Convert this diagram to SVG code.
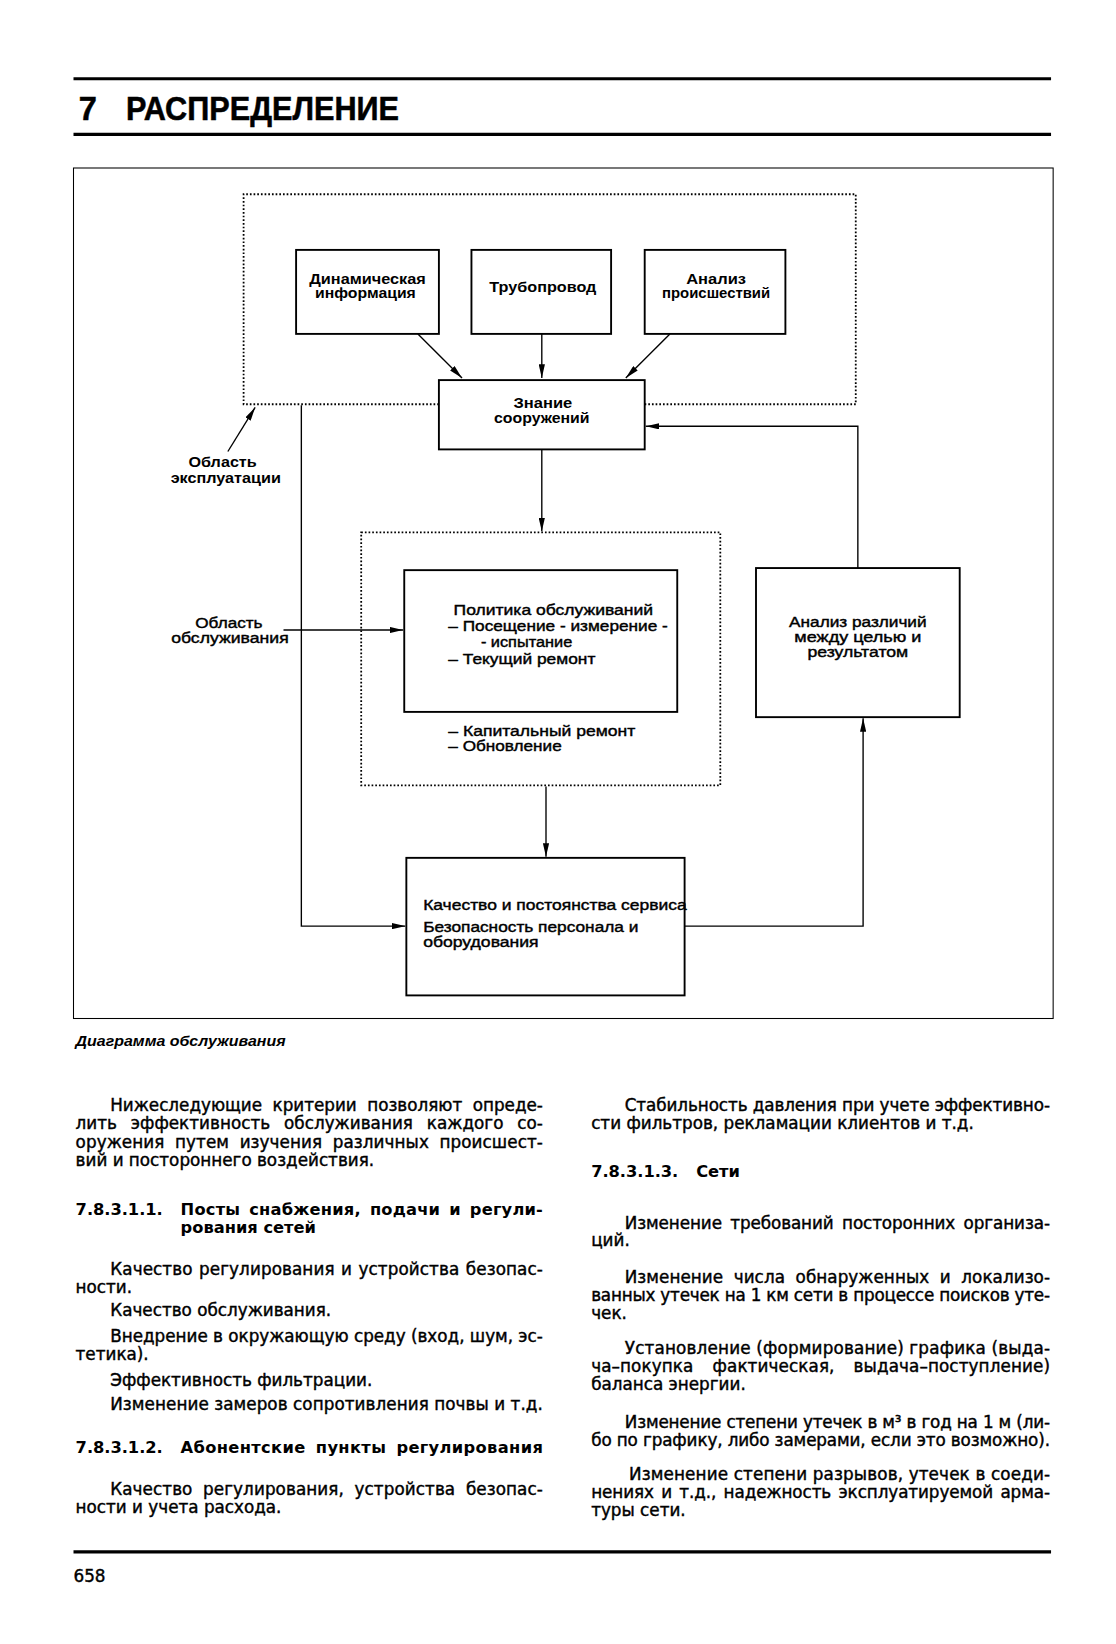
<svg xmlns="http://www.w3.org/2000/svg" width="1116" height="1644" viewBox="0 0 1116 1644">
<defs>
<style>
.rule{stroke:#000;stroke-width:3;fill:none}
.frame{stroke:#000;stroke-width:1;fill:none}
.box{stroke:#000;stroke-width:1.8;fill:#fff}
.dot{stroke:#000;stroke-width:1.7;fill:none;stroke-dasharray:1.6 1.9}
.con{stroke:#000;stroke-width:1.3;fill:none}
.bl{font-family:"Liberation Sans",Arial,sans-serif;font-weight:bold;font-size:14.5px;fill:#000;text-anchor:middle}
.rl{font-family:"Liberation Sans",Arial,sans-serif;font-size:14.5px;fill:#000;stroke:#000;stroke-width:0.4}
.rlc{font-family:"Liberation Sans",Arial,sans-serif;font-size:14.5px;fill:#000;stroke:#000;stroke-width:0.4;text-anchor:middle}
.body{font-family:"DejaVu Sans","Liberation Sans",sans-serif;font-size:16px;fill:#000;stroke:#000;stroke-width:0.4}
.head{font-family:"DejaVu Sans","Liberation Sans",sans-serif;font-size:15.5px;font-weight:bold;fill:#000}
.title{font-family:"Liberation Sans",Arial,sans-serif;font-size:31px;font-weight:bold;fill:#000;stroke:#000;stroke-width:0.5}
.cap{font-family:"Liberation Sans",Arial,sans-serif;font-size:13.5px;font-weight:bold;font-style:italic;fill:#000}
</style>
<marker id="ah" viewBox="0 0 13 6" refX="13" refY="3" markerWidth="13" markerHeight="6" orient="auto" markerUnits="userSpaceOnUse">
<path d="M0,0 L13,3 L0,6 Z" fill="#000"/>
</marker>
</defs>
<rect width="1116" height="1644" fill="#fff"/>
<g transform="scale(1.05)">
<g id="header">
<line class="rule" x1="70" y1="75" x2="1001" y2="75"/>
<text class="title" x="75" y="114">7</text>
<text class="title" x="120" y="114" textLength="260" lengthAdjust="spacingAndGlyphs">РАСПРЕДЕЛЕНИЕ</text>
<line class="rule" x1="70" y1="128" x2="1001" y2="128"/>
</g>
<g id="figure-frame">
<rect class="frame" x="70" y="160" width="933" height="810"/>
</g>
<g id="area-operation">
<path class="dot" d="M418,385 L232,385 L232,185 L815,185 L815,385 L614,385"/>
<text class="bl" x="212" y="445" textLength="65" lengthAdjust="spacingAndGlyphs">Область</text>
<text class="bl" x="215" y="460" textLength="105" lengthAdjust="spacingAndGlyphs">эксплуатации</text>
</g>
<g id="node-dyn">
<rect class="box" x="282" y="238" width="136" height="80"/>
<text class="bl" x="350" y="270" textLength="111" lengthAdjust="spacingAndGlyphs">Динамическая</text>
<text class="bl" x="348" y="284" textLength="96" lengthAdjust="spacingAndGlyphs">информация</text>
</g>
<g id="node-pipe">
<rect class="box" x="449" y="238" width="133" height="80"/>
<text class="bl" x="517" y="278" textLength="102" lengthAdjust="spacingAndGlyphs">Трубопровод</text>
</g>
<g id="node-incident">
<rect class="box" x="614" y="238" width="134" height="80"/>
<text class="bl" x="682" y="270" textLength="57" lengthAdjust="spacingAndGlyphs">Анализ</text>
<text class="bl" x="682" y="284" textLength="103" lengthAdjust="spacingAndGlyphs">происшествий</text>
</g>
<g id="node-knowledge">
<rect class="box" x="418" y="362" width="196" height="66"/>
<text class="bl" x="517" y="389" textLength="56" lengthAdjust="spacingAndGlyphs">Знание</text>
<text class="bl" x="516" y="403" textLength="91" lengthAdjust="spacingAndGlyphs">сооружений</text>
</g>
<g id="area-maintenance">
<rect class="dot" x="344" y="507" width="342" height="241"/>
<text class="rlc" x="218" y="598" textLength="64" lengthAdjust="spacingAndGlyphs">Область</text>
<text class="rlc" x="219" y="612" textLength="112" lengthAdjust="spacingAndGlyphs">обслуживания</text>
<text class="rl" x="427" y="701" textLength="178" lengthAdjust="spacingAndGlyphs">– Капитальный ремонт</text>
<text class="rl" x="427" y="715" textLength="108" lengthAdjust="spacingAndGlyphs">– Обновление</text>
</g>
<g id="node-policy">
<rect class="box" x="385" y="543" width="260" height="135"/>
<text class="rl" x="432" y="586" textLength="190" lengthAdjust="spacingAndGlyphs">Политика обслуживаний</text>
<text class="rl" x="427" y="601" textLength="209" lengthAdjust="spacingAndGlyphs">– Посещение - измерение -</text>
<text class="rl" x="458" y="616" textLength="87" lengthAdjust="spacingAndGlyphs">- испытание</text>
<text class="rl" x="427" y="632" textLength="140" lengthAdjust="spacingAndGlyphs">– Текущий ремонт</text>
</g>
<g id="node-gap">
<rect class="box" x="720" y="541" width="194" height="142"/>
<text class="rlc" x="817" y="597" textLength="131" lengthAdjust="spacingAndGlyphs">Анализ различий</text>
<text class="rlc" x="817" y="611" textLength="121" lengthAdjust="spacingAndGlyphs">между целью и</text>
<text class="rlc" x="817" y="626" textLength="96" lengthAdjust="spacingAndGlyphs">результатом</text>
</g>
<g id="node-quality">
<rect class="box" x="387" y="817" width="265" height="131"/>
<text class="rl" x="403" y="867" textLength="251" lengthAdjust="spacingAndGlyphs">Качество и постоянства сервиса</text>
<text class="rl" x="403" y="888" textLength="205" lengthAdjust="spacingAndGlyphs">Безопасность персонала и</text>
<text class="rl" x="403" y="902" textLength="110" lengthAdjust="spacingAndGlyphs">оборудования</text>
</g>
<g id="connectors">
<line class="con" x1="398" y1="318" x2="440" y2="360" marker-end="url(#ah)"/>
<line class="con" x1="516" y1="318" x2="516" y2="360" marker-end="url(#ah)"/>
<line class="con" x1="638" y1="318" x2="596" y2="360" marker-end="url(#ah)"/>
<line class="con" x1="217" y1="430" x2="243" y2="388" marker-end="url(#ah)"/>
<line class="con" x1="516" y1="428" x2="516" y2="506" marker-end="url(#ah)"/>
<polyline class="con" points="287,386 287,882 386,882" marker-end="url(#ah)"/>
<line class="con" x1="270" y1="600" x2="384" y2="600" marker-end="url(#ah)"/>
<line class="con" x1="520" y1="749" x2="520" y2="816" marker-end="url(#ah)"/>
<polyline class="con" points="652,882 822,882 822,684" marker-end="url(#ah)"/>
<polyline class="con" points="817,541 817,406 615,406" marker-end="url(#ah)"/>
</g>
<g id="caption">
<text class="cap" x="72" y="996" textLength="200" lengthAdjust="spacingAndGlyphs">Диаграмма обслуживания</text>
</g>
<g id="text-left">
<text class="body" x="105" y="1058" word-spacing="5" textLength="412">Нижеследующие критерии позволяют опреде-</text>
<text class="body" x="72" y="1075" word-spacing="8" textLength="445">лить эффективность обслуживания каждого со-</text>
<text class="body" x="72" y="1093" word-spacing="5" textLength="445">оружения путем изучения различных происшест-</text>
<text class="body" x="72" y="1110">вий и постороннего воздействия.</text>
<text class="head" x="72" y="1157" textLength="83">7.8.3.1.1.</text>
<text class="head" x="172" y="1157" word-spacing="3" textLength="345">Посты снабжения, подачи и регули-</text>
<text class="head" x="172" y="1174">рования сетей</text>
<text class="body" x="105" y="1214" word-spacing="1" textLength="412">Качество регулирования и устройства безопас-</text>
<text class="body" x="72" y="1231">ности.</text>
<text class="body" x="105" y="1253">Качество обслуживания.</text>
<text class="body" x="105" y="1278" textLength="412">Внедрение в окружающую среду (вход, шум, эс-</text>
<text class="body" x="72" y="1295">тетика).</text>
<text class="body" x="105" y="1320">Эффективность фильтрации.</text>
<text class="body" x="105" y="1343" textLength="412">Изменение замеров сопротивления почвы и т.д.</text>
<text class="head" x="72" y="1384" textLength="83">7.8.3.1.2.</text>
<text class="head" x="172" y="1384" word-spacing="4" textLength="345">Абонентские пункты регулирования</text>
<text class="body" x="105" y="1424" word-spacing="5" textLength="412">Качество регулирования, устройства безопас-</text>
<text class="body" x="72" y="1441">ности и учета расхода.</text>
</g>
<g id="text-right">
<text class="body" x="595" y="1058" textLength="405">Стабильность давления при учете эффективно-</text>
<text class="body" x="563" y="1075">сти фильтров, рекламации клиентов и т.д.</text>
<text class="head" x="563" y="1121" textLength="83">7.8.3.1.3.</text>
<text class="head" x="663" y="1121">Сети</text>
<text class="body" x="595" y="1170" word-spacing="3" textLength="405">Изменение требований посторонних организа-</text>
<text class="body" x="563" y="1187">ций.</text>
<text class="body" x="595" y="1222" word-spacing="5" textLength="405">Изменение числа обнаруженных и локализо-</text>
<text class="body" x="563" y="1239" textLength="437">ванных утечек на 1 км сети в процессе поисков уте-</text>
<text class="body" x="563" y="1256">чек.</text>
<text class="body" x="595" y="1290" textLength="405">Установление (формирование) графика (выда-</text>
<text class="body" x="563" y="1307" word-spacing="13" textLength="437">ча–покупка фактическая, выдача–поступление)</text>
<text class="body" x="563" y="1324">баланса энергии.</text>
<text class="body" x="595" y="1360" textLength="405">Изменение степени утечек в м³ в год на 1 м (ли-</text>
<text class="body" x="563" y="1377" textLength="437">бо по графику, либо замерами, если это возможно).</text>
<text class="body" x="599" y="1410" textLength="401">Изменение степени разрывов, утечек в соеди-</text>
<text class="body" x="563" y="1427" word-spacing="2" textLength="437">нениях и т.д., надежность эксплуатируемой арма-</text>
<text class="body" x="563" y="1444">туры сети.</text>
</g>
<g id="footer">
<line class="rule" x1="70" y1="1478" x2="1001" y2="1478"/>
<text class="body" x="70" y="1507">658</text>
</g>
</g>
</svg>
